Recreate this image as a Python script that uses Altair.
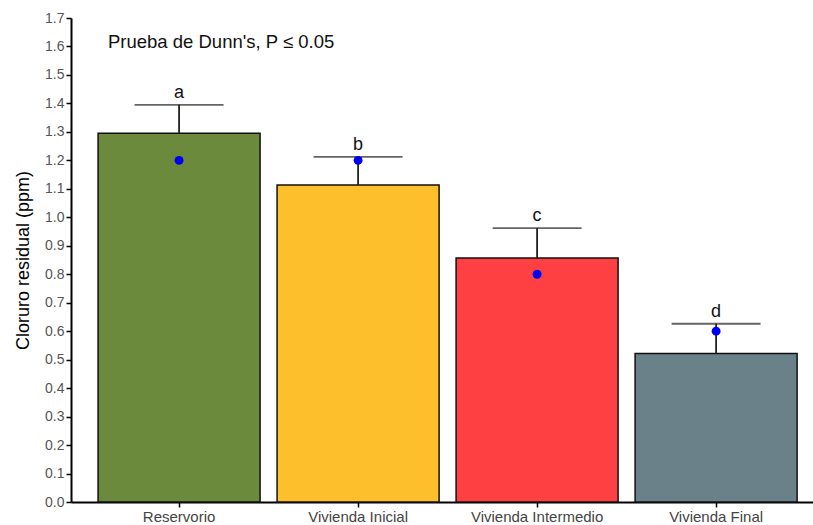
import altair as alt
import pandas as pd

categories = ["Reservorio", "Vivienda Inicial", "Vivienda Intermedio", "Vivienda Final"]
means = [1.295, 1.113, 0.857, 0.522]
uppers = [1.395, 1.212, 0.962, 0.626]
medians = [1.20, 1.20, 0.80, 0.60]
letters = ["a", "b", "c", "d"]
colors = ["#6B8A3C", "#FDBF2B", "#FF4043", "#6B818A"]
y_ticks = [0.0, 0.1, 0.2, 0.3, 0.4, 0.5, 0.6, 0.7, 0.8, 0.9, 1.0,
           1.1, 1.2, 1.3, 1.4, 1.5, 1.6, 1.7]

df = pd.DataFrame({"cat": categories, "mean": means, "upper": uppers,
                   "median": medians, "letter": letters})

x_axis = alt.Axis(labelAngle=0, labelFontSize=15, labelColor="#444444",
                  labelFont="Liberation Sans", domainColor="#000000",
                  domainWidth=2, tickColor="#000000", tickWidth=1.5,
                  tickSize=5, labelPadding=2)
x_scale = alt.Scale(paddingInner=0.095, paddingOuter=0.12, align=0.63)
y_scale = alt.Scale(domain=[0, 1.7], nice=False)
y_axis = alt.Axis(values=y_ticks, format=".1f", labelOverlap=False, tickCount=18,
                  labelFontSize=14, labelColor="#555555", labelFont="Liberation Sans",
                  titleFontSize=18, titleFont="Liberation Sans", titleFontWeight="normal",
                  titleColor="#000000", domainColor="#000000", domainWidth=2,
                  tickColor="#000000", tickWidth=1.5, tickSize=5, grid=False,
                  titlePadding=12)


def X():
    return alt.X("cat:N", sort=categories, title=None, scale=x_scale, axis=x_axis)


def Y(field):
    return alt.Y(field, scale=y_scale, title="Cloruro residual (ppm)", axis=y_axis)


base = alt.Chart(df)

bars = base.mark_bar(stroke="#111111", strokeWidth=1.5).encode(
    x=X(),
    y=Y("mean:Q"),
    color=alt.Color("cat:N", sort=categories,
                    scale=alt.Scale(domain=categories, range=colors), legend=None),
)

err = base.mark_rule(color="#222222", strokeWidth=1.8).encode(
    x=X(), y=Y("mean:Q"), y2="upper:Q",
)

caps = base.mark_tick(color="#222222", size=89, thickness=1.8).encode(
    x=X(), y=Y("upper:Q"),
)

dots = base.mark_circle(color="#0000F0", size=80, opacity=1).encode(
    x=X(), y=Y("median:Q"),
)

labels = base.mark_text(fontSize=18, font="Liberation Sans", color="#111111",
                        baseline="bottom", dy=-3).encode(
    x=X(), y=Y("upper:Q"), text="letter:N",
)

title = alt.Chart(pd.DataFrame({"t": ["Prueba de Dunn's, P ≤ 0.05"]})).mark_text(
    fontSize=18.5, font="Liberation Sans", color="#111111", align="left", baseline="middle"
).encode(x=alt.value(37), y=alt.value(24), text="t:N")

chart = alt.layer(bars, err, caps, dots, labels, title).properties(
    width=742, height=484,
    background="white",
    autosize=alt.AutoSizeParams(type="none"),
    padding={"left": 71, "top": 18, "right": 0, "bottom": 23},
).configure_view(stroke=None)

chart.save("out.html", embed_options={"renderer": "svg", "actions": False})
